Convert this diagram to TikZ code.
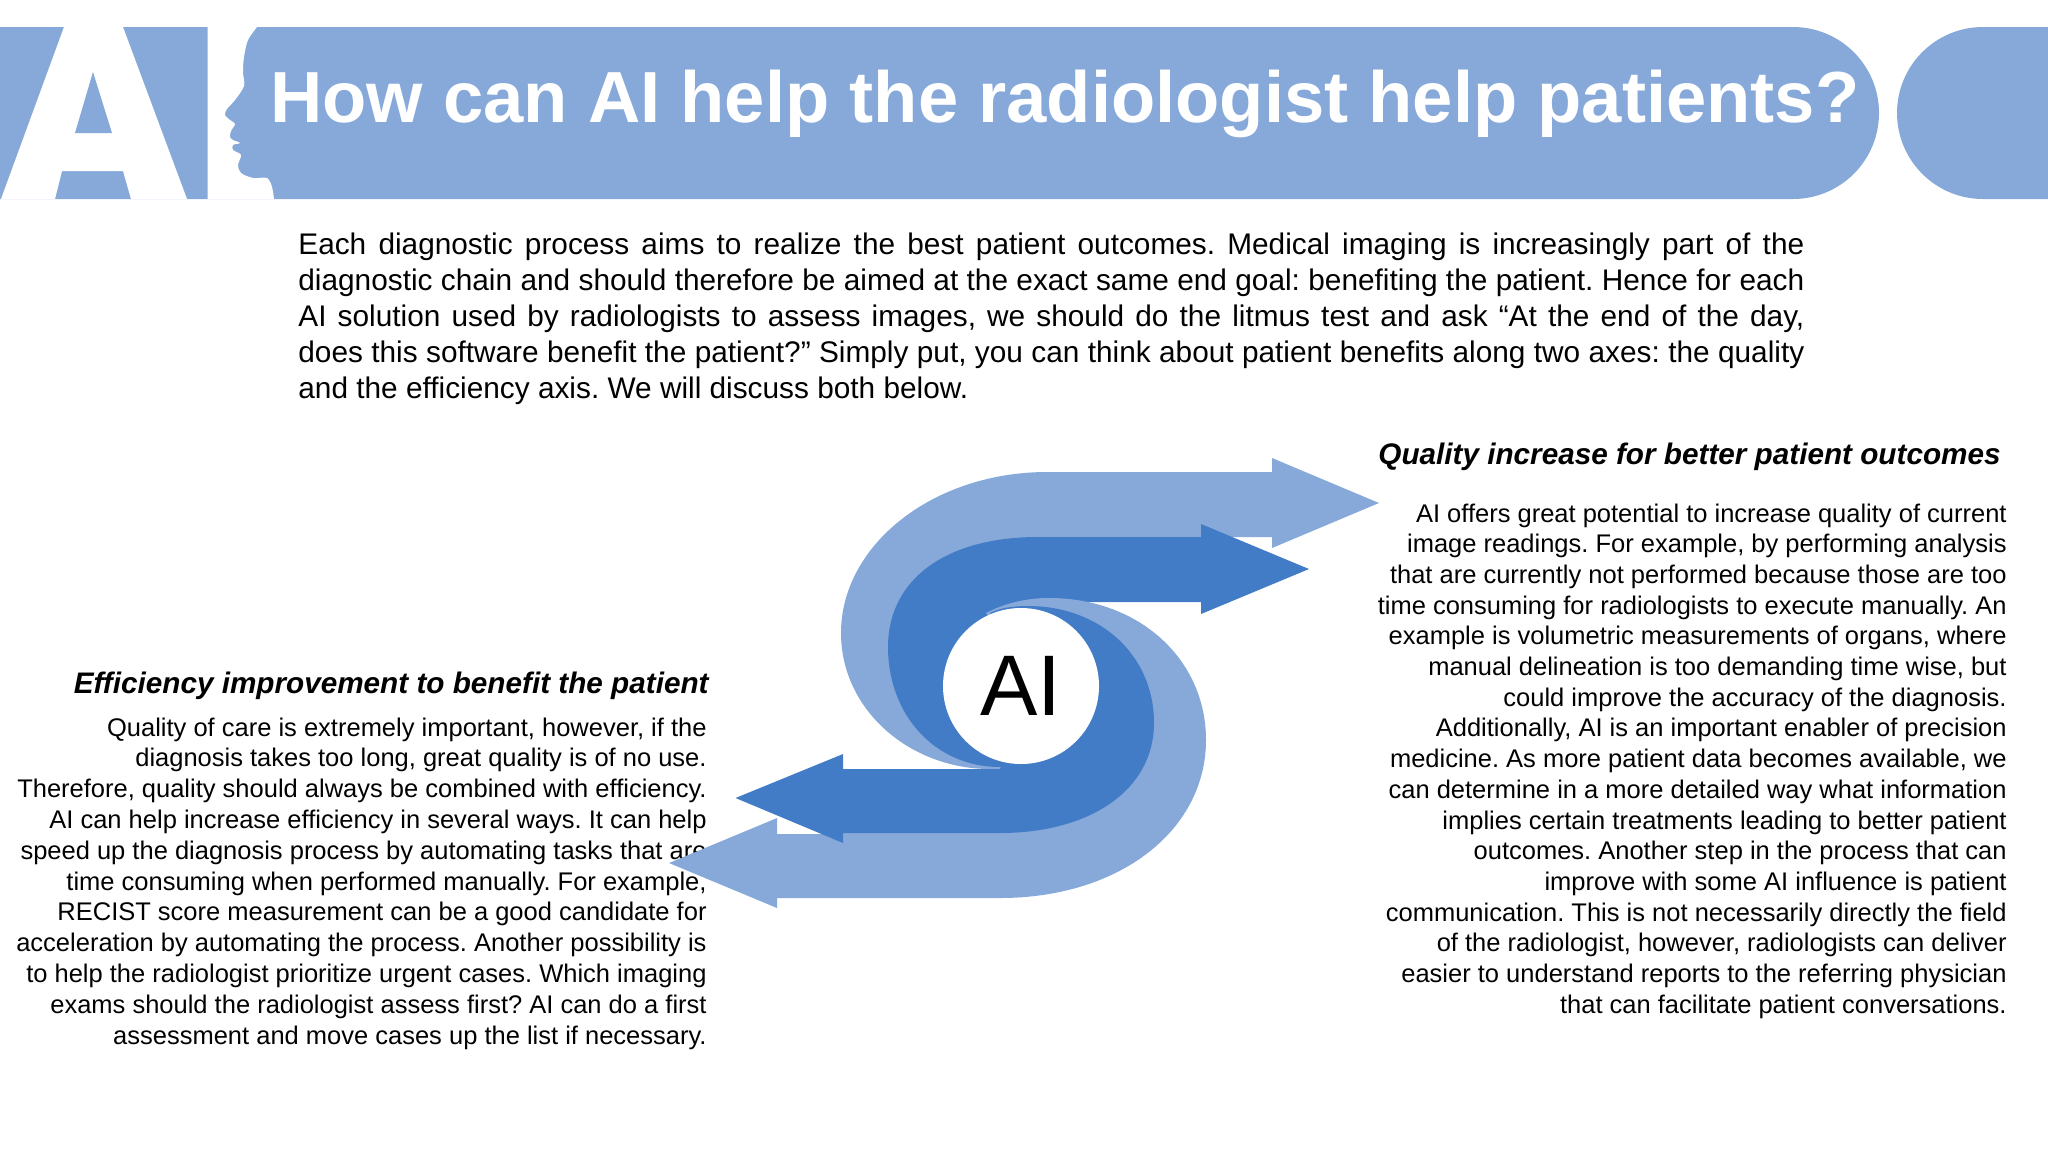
\documentclass[tikz,border=0pt]{standalone}
\usepackage{xcolor}
\usepackage{fontspec}
\setmainfont{Liberation Sans}
\frenchspacing
\definecolor{bandblue}{HTML}{86A9DA}
\definecolor{deepblue}{HTML}{437CC6}
\tikzset{
  band/.style={fill=bandblue},
  lightarrow/.style={fill=bandblue},
  deeparrow/.style={fill=deepblue},
  titletext/.style={text=white, font=\bfseries\fontsize{36.2}{40}\selectfont, inner sep=0pt},
  introtext/.style={text=black, font=\fontsize{14.9}{18}\selectfont, inner sep=0pt, text width=753pt, align=justify},
  headtext/.style={text=black, font=\bfseries\itshape\fontsize{14.85}{18}\selectfont, inner sep=0pt},
  sidetext/.style={text=black, font=\fontsize{12.75}{15.4}\selectfont, inner sep=0pt, align=right},
  sidetextlong/.style={sidetext, font=\fontsize{12.75}{15.35}\selectfont}
}
\begin{document}
\begin{tikzpicture}[x=0.5pt,y=-0.5pt]
  \useasboundingbox (0,0) rectangle (2048,1152);
  % header band
  \fill[band] (0,27) [rounded corners=43pt] -- (1879,27) -- (1879,199) [sharp corners] -- (0,199) -- cycle;
  \fill[band] (2048,27) [rounded corners=43pt] -- (1897,27) -- (1897,199) [sharp corners] -- (2048,199) -- cycle;
  % big letter A
  \fill[white] (64,27) -- (123,27) -- (187,199) -- (131,199) -- (123,171) -- (62,171) -- (55,199) -- (1,199) -- cycle;
  \fill[band] (93,72) -- (112,133) -- (75,133) -- cycle;
  % letter I with the face profile
  \fill[white] (207.5,27) -- plot[smooth,tension=0.5] coordinates {(257,27) (248,40) (244,57) (243,72) (244,86) (235,100) (227,109) (225,115) (230,120) (235,124) (231,131) (230,137) (233,140) (240,143) (233,145) (233,150) (241,155) (238,165) (241,173) (253,178) (267,178) (272,187) (274,199)} -- (207.5,199) -- cycle;
  \node[titletext,anchor=base west] (title) at (270,122) {How can AI help the radiologist help patients?};
  \node[introtext,anchor=north west] (intro) at (298,232.5) {Each diagnostic process aims to realize the best patient outcomes. Medical imaging is increasingly part of the\linebreak
    diagnostic chain and should therefore be aimed at the exact same end goal: benefiting the patient. Hence for each\linebreak
    AI solution used by radiologists to assess images, we should do the litmus test and ask “At the end of the day,\linebreak
    does this software benefit the patient?” Simply put, you can think about patient benefits along two axes: the quality\linebreak
    and the efficiency axis. We will discuss both below.};
  \node[headtext,anchor=base east] (efficiencyhead) at (709,693) {Efficiency improvement to benefit the patient};
  \node[sidetext,anchor=east] (efficiencytext) at (707,883.5) {Quality of care is extremely important, however, if the\\
    diagnosis takes too long, great quality is of no use.\\
    Therefore, quality should always be combined with efficiency.\\
    AI can help increase efficiency in several ways. It can help\\
    speed up the diagnosis process by automating tasks that are\\
    time consuming when performed manually. For example,\\
    RECIST score measurement can be a good candidate for\\
    acceleration by automating the process. Another possibility is\\
    to help the radiologist prioritize urgent cases. Which imaging\\
    exams should the radiologist assess first? AI can do a first\\
    assessment and move cases up the list if necessary.};
  \node[headtext,anchor=base east] (qualityhead) at (2001,464) {Quality increase for better patient outcomes};
  \node[sidetextlong,anchor=east] (qualitytext) at (2007,761) {AI offers great potential to increase quality of current\\
    image readings. For example, by performing analysis\\
    that are currently not performed because those are too\\
    time consuming for radiologists to execute manually. An\\
    example is volumetric measurements of organs, where\\
    manual delineation is too demanding time wise, but\\
    could improve the accuracy of the diagnosis.\\
    Additionally, AI is an important enabler of precision\\
    medicine. As more patient data becomes available, we\\
    can determine in a more detailed way what information\\
    implies certain treatments leading to better patient\\
    outcomes. Another step in the process that can\\
    improve with some AI influence is patient\\
    communication. This is not necessarily directly the field\\
    of the radiologist, however, radiologists can deliver\\
    easier to understand reports to the referring physician\\
    that can facilitate patient conversations.};
  % swirl arrows
  \fill[lightarrow] (1272,472) -- (1272,458) -- (1379,503) -- (1272,548) -- (1272,537) -- (1201,537) -- (1201,545) -- (1047,545) -- (1000,690) -- (1052,758)
    .. controls (1035,766) and (1015,769) .. (990,769)
    .. controls (910,769) and (841,710) .. (841,633)
    .. controls (841,545) and (933,472) .. (1047,472) -- cycle;
  \fill[deeparrow] (1201,537) -- (1201,524) -- (1309,569) -- (1201,614) -- (1201,602) -- (1030,602) -- (1000,690) -- (1052,758)
    .. controls (1040,763) and (1020,767) .. (1000,767)
    .. controls (935,767) and (888,715) .. (888,647)
    .. controls (888,580) and (945,537) .. (1038,537) -- cycle;
  \fill[lightarrow] (777,834) -- (777,818) -- (669,863) -- (777,908) -- (777,898) -- (1000,898)
    .. controls (1120,898) and (1206,830) .. (1206,740)
    .. controls (1206,660) and (1140,598) .. (1049,598)
    .. controls (1025,598) and (1003,604) .. (986,613) -- (1040,680) -- (1000,825) -- (843,825) -- (843,834) -- cycle;
  \fill[deeparrow] (843,769) -- (843,754) -- (735.5,798) -- (843,843) -- (843,833) -- (1000,833)
    .. controls (1090,833) and (1154,790) .. (1154,723)
    .. controls (1154,655) and (1100,606) .. (1028,606)
    .. controls (1012,606) and (1000,608) .. (990,613) -- (1040,680) -- (1000,769) -- cycle;
  \node[circle,fill=white,minimum size=78pt,inner sep=0pt,font=\fontsize{43}{46}\selectfont] (ai) at (1021,686) {AI};
\end{tikzpicture}
\end{document}
